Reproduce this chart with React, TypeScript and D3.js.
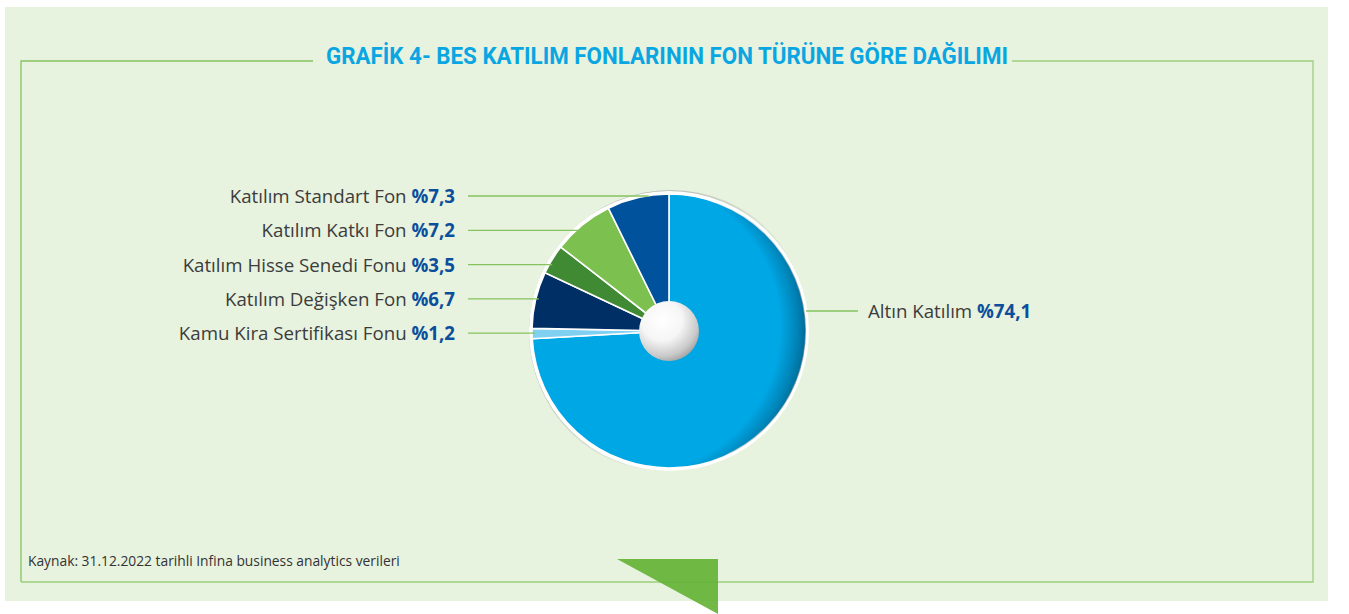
import React from "react";
import * as d3 from "d3";

const categories = [
  "Altın Katılım",
  "Kamu Kira Sertifikası Fonu",
  "Katılım Değişken Fon",
  "Katılım Hisse Senedi Fonu",
  "Katılım Katkı Fon",
  "Katılım Standart Fon",
];
const values = [74.1, 1.2, 6.7, 3.5, 7.2, 7.3];
const valueLabels = ["%74,1", "%1,2", "%6,7", "%3,5", "%7,2", "%7,3"];
const colors = ["#00a7e5", "#7fd0f1", "#002f66", "#418a34", "#7cc14f", "#00529c"];

const W = 1349;
const H = 614;
const cx = 669;
const cy = 331;
const R = 137;
const hole = 30;

export default function App() {
  const pie = d3.pie<number>().sort(null).value((d) => d);
  const arcs = pie(values);
  const arcGen = d3.arc<d3.PieArcDatum<number>>().innerRadius(0).outerRadius(R);

  const leftIdx = [5, 4, 3, 2, 1];
  const topY = 196;
  const step = 34.3;
  const textFont = "'Open Sans', 'Noto Sans', sans-serif";
  const labelSize = 18.7;

  return (
    <svg
      width={W}
      height={H}
      style={{ position: "absolute", left: 0, top: 0, background: "#fff" }}
    >
      <defs>
        <radialGradient id="edgeShade" cx={cx - 35} cy={cy - 4} r={R + 35} gradientUnits="userSpaceOnUse">
          <stop offset="0.85" stopColor="#00304a" stopOpacity="0" />
          <stop offset="0.95" stopColor="#00304a" stopOpacity="0.3" />
          <stop offset="1" stopColor="#00304a" stopOpacity="0.5" />
        </radialGradient>
        <radialGradient id="ball" cx="0.38" cy="0.32" r="0.75">
          <stop offset="0" stopColor="#ffffff" />
          <stop offset="0.45" stopColor="#f6f6f6" />
          <stop offset="0.8" stopColor="#c9c9c9" />
          <stop offset="1" stopColor="#9a9a9a" />
        </radialGradient>
        <radialGradient id="ringShadow" cx={cx - 4} cy={cy - 3} r={R + 6} gradientUnits="userSpaceOnUse">
          <stop offset="0.95" stopColor="#888" stopOpacity="0.6" />
          <stop offset="1" stopColor="#888" stopOpacity="0" />
        </radialGradient>
      </defs>

      <rect x={5} y={7} width={1323} height={594} fill="#e7f2df" />

      <path d={`M313,61 L21,61 L21,582`} fill="none" stroke="#86c35f" strokeWidth={1.3} />
      <path d={`M1012,61 L1313,61 L1313,582 L21,582`} fill="none" stroke="#9ccf7c" strokeWidth={1.3} />

      <text
        x={326}
        y={64}
        textLength={682}
        lengthAdjust="spacingAndGlyphs"
        fill="#0aa6e2"
        fontFamily="'Roboto', 'Noto Sans', sans-serif"
        fontWeight={700}
        fontSize={23}
      >
        GRAFİK 4- BES KATILIM FONLARININ FON TÜRÜNE GÖRE DAĞILIMI
      </text>

      <circle cx={cx + 2} cy={cy + 1} r={R + 5} fill="url(#ringShadow)" />
      <circle cx={cx} cy={cy} r={R + 3} fill="#fff" />
      <g transform={`translate(${cx},${cy})`}>
        {arcs.map((a, i) => (
          <path key={i} d={arcGen(a) || ""} fill={colors[i]} stroke="#fff" strokeWidth={1.6} />
        ))}
      </g>
      <circle cx={cx} cy={cy} r={R} fill="url(#edgeShade)" />
      <circle cx={cx} cy={cy} r={hole} fill="url(#ball)" />

      {leftIdx.map((idx, k) => {
        const y = topY + k * step;
        const dy = y - cy;
        const xe = cx - Math.sqrt(Math.max(0, R * R - dy * dy)) + 3;
        return (
          <g key={idx}>
            <line x1={468} x2={xe} y1={y} y2={y} stroke="#86c35f" strokeWidth={1.3} />
            <text
              x={455}
              y={y + 7}
              textAnchor="end"
              fontFamily={textFont}
              fontSize={labelSize}
              fill="#3c3c3c"
            >
              {categories[idx]}{" "}
              <tspan fill="#0b4f9c" fontWeight={700}>
                {valueLabels[idx]}
              </tspan>
            </text>
          </g>
        );
      })}

      <line x1={cx + R} x2={858} y1={311} y2={311} stroke="#86c35f" strokeWidth={1.3} />
      <text x={868} y={318} fontFamily={textFont} fontSize={labelSize} fill="#3c3c3c">
        {categories[0]}{" "}
        <tspan fill="#0b4f9c" fontWeight={700}>
          {valueLabels[0]}
        </tspan>
      </text>

      <text x={28} y={566} fontFamily={textFont} fontSize={13.8} fill="#333">
        Kaynak: 31.12.2022 tarihli Infina business analytics verileri
      </text>

      <polygon points="617,559 718,559 718,614" fill="#63b133" fillOpacity={0.9} />
    </svg>
  );
}
